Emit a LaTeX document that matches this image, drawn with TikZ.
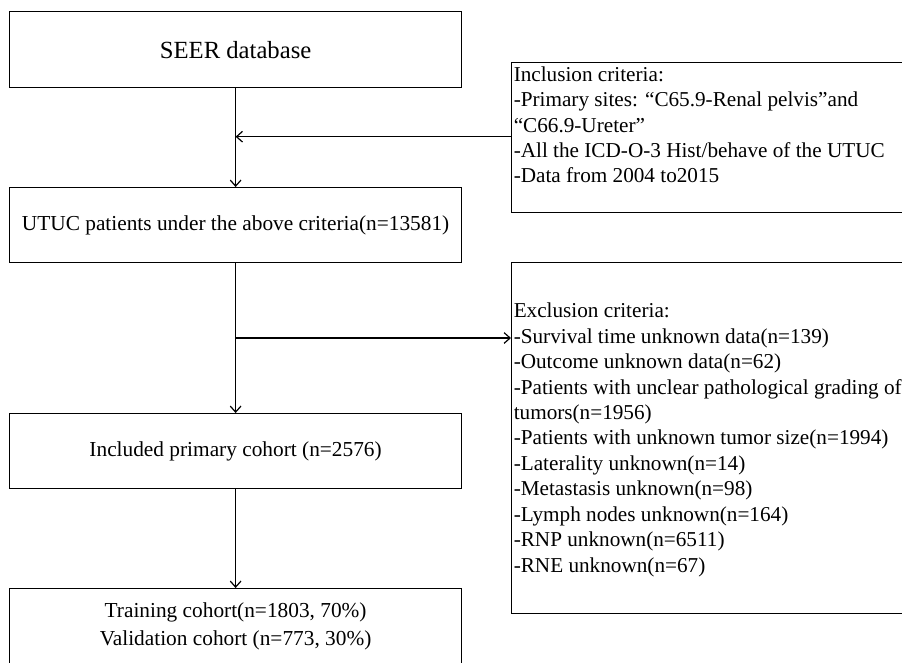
\documentclass[tikz,border=0pt]{standalone}
\usepackage{fontspec}
\setmainfont{Liberation Serif}
\usetikzlibrary{arrows.meta}
\begin{document}
\begin{tikzpicture}[x=0.75pt,y=-0.75pt,
  box/.style={draw, line width=0.9pt, rectangle, inner sep=0pt, anchor=north west},
  conn/.style={line width=0.9pt, -{Straight Barb[length=4.5pt,width=8pt]}},
  crit/.style={anchor=north west, align=left, inner sep=0pt, font=\fontsize{15.9}{19.08}\selectfont},
  main/.style={font=\fontsize{16}{20.7}\selectfont, align=center}]
\clip (0,0) rectangle (902,662);
\fill[white] (0,0) rectangle (902,662);
% left column boxes
\node[box, main, font=\fontsize{18.5}{22}\selectfont, minimum width=339pt, minimum height=57pt] (seer) at (9,11) {SEER database};
\node[box, main, minimum width=339pt, minimum height=56.25pt] (utuc) at (9,187) {UTUC patients under the above criteria(n=13581)};
\node[box, main, minimum width=339pt, minimum height=56.25pt] (incl) at (9,413) {Included primary cohort (n=2576)};
\node[box, main, minimum width=339pt, minimum height=57pt] (train) at (9,588) {Training cohort(n=1803, 70\%)\\Validation cohort (n=773, 30\%)};
% right column boxes
\node[box, minimum width=299.25pt, minimum height=112.5pt] (inbox) at (511,62) {};
\node[box, minimum width=299.25pt, minimum height=263.25pt] (exbox) at (511,262) {};
\node[crit] (intext) at (513.5,66.2) {Inclusion criteria:\\-Primary sites: “C65.9-Renal pelvis”and\\“C66.9-Ureter”\\-All the ICD-O-3 Hist/behave of the UTUC\\-Data from 2004 to2015};
\node[crit] (extext) at (513.5,302.8) {Exclusion criteria:\\-Survival time unknown data(n=139)\\-Outcome unknown data(n=62)\\-Patients with unclear pathological grading of\\tumors(n=1956)\\-Patients with unknown tumor size(n=1994)\\-Laterality unknown(n=14)\\-Metastasis unknown(n=98)\\-Lymph nodes unknown(n=164)\\-RNP unknown(n=6511)\\-RNE unknown(n=67)};
% junction coordinates
\coordinate (j1) at (seer.south |- 0,136.7);
\coordinate (j2) at (utuc.south |- 0,338);
% connectors
\draw[conn] (seer.south) -- (utuc.north);
\draw[conn] (inbox.west |- j1) -- (j1);
\draw[conn] (utuc.south) -- (incl.north);
\draw[conn] (j2) -- (exbox.west |- j2);
\draw[conn] (incl.south) -- (train.north);
\end{tikzpicture}
\end{document}
